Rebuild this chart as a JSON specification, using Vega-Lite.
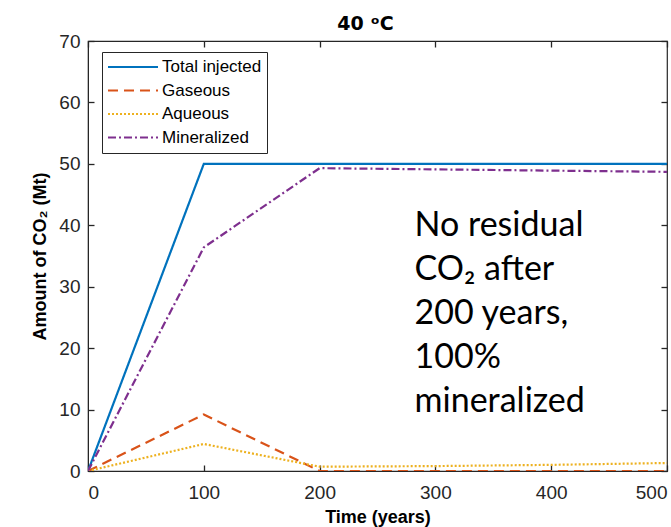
{
  "$schema": "https://vega.github.io/schema/vega-lite/v6.json",
  "width": 579,
  "height": 430,
  "autosize": "none",
  "padding": {"left": 88, "top": 41, "right": 4, "bottom": 56},
  "config": {
    "view": {"stroke": "#262626", "strokeWidth": 1.2},
    "font": "Liberation Sans",
    "axis": {"grid": false, "domainColor": "#262626", "tickColor": "#262626", "labelColor": "#262626", "titleColor": "#000", "labelFontSize": 19, "titleFontSize": 18, "titleFontWeight": "bold", "tickSize": 6, "tickWidth": 1.3}
  },
  "title": {"text": "40 ᵒC", "fontSize": 19, "fontWeight": "bold", "font": "DejaVu Sans", "offset": 1, "dx": -12, "dy": 3, "color": "#000"},
  "resolve": {"scale": {"x": "independent", "y": "independent"}, "axis": {"x": "independent", "y": "independent"}},
  "datasets": {
    "lines": [
      {"series": "Total injected", "time": 0, "value": 0},
      {"series": "Total injected", "time": 100, "value": 50},
      {"series": "Total injected", "time": 200, "value": 50},
      {"series": "Total injected", "time": 500, "value": 50},
      {"series": "Gaseous", "time": 0, "value": 0},
      {"series": "Gaseous", "time": 100, "value": 9.2},
      {"series": "Gaseous", "time": 200, "value": 0},
      {"series": "Gaseous", "time": 500, "value": 0},
      {"series": "Aqueous", "time": 0, "value": 0},
      {"series": "Aqueous", "time": 100, "value": 4.4},
      {"series": "Aqueous", "time": 200, "value": 0.7},
      {"series": "Aqueous", "time": 300, "value": 0.8},
      {"series": "Aqueous", "time": 400, "value": 1.0},
      {"series": "Aqueous", "time": 500, "value": 1.3},
      {"series": "Mineralized", "time": 0, "value": 0},
      {"series": "Mineralized", "time": 100, "value": 36.4},
      {"series": "Mineralized", "time": 200, "value": 49.3},
      {"series": "Mineralized", "time": 500, "value": 48.7}
    ],
    "note": [{"text": ["No residual", "CO₂ after", "200 years,", "100%", "mineralized"]}]
  },
  "layer": [
    {
      "layer": [
        {
          "data": {"name": "lines"},
          "mark": {"type": "line", "strokeWidth": 2.2, "clip": true},
          "encoding": {
            "x": {"field": "time", "type": "quantitative", "scale": {"domain": [0, 500], "nice": false}, "axis": {"title": "Time (years)", "values": [0, 100, 200, 300, 400, 500], "ticks": false, "labelPadding": 12, "titlePadding": 6}},
            "y": {"field": "value", "type": "quantitative", "scale": {"domain": [0, 70], "nice": false}, "axis": {"title": "Amount of CO₂ (Mt)", "values": [0, 10, 20, 30, 40, 50, 60, 70], "ticks": false, "labelPadding": 8, "titlePadding": 9}},
            "color": {"field": "series", "type": "nominal", "scale": {"domain": ["Total injected", "Gaseous", "Aqueous", "Mineralized"], "range": ["#0072BD", "#D95319", "#EDB120", "#7E2F8E"]},
              "legend": {"title": null, "orient": "none", "legendX": 14, "legendY": 11, "strokeColor": "#262626", "fillColor": "white", "padding": 5, "labelFontSize": 17, "labelColor": "#000", "symbolType": "stroke", "symbolSize": 2500, "symbolStrokeWidth": 2, "clipHeight": 20, "rowPadding": 3.5, "labelOffset": 3}},
            "strokeDash": {"field": "series", "type": "nominal", "scale": {"domain": ["Total injected", "Gaseous", "Aqueous", "Mineralized"], "range": [[1, 0], [10, 6], [2, 2], [8, 3, 2, 3]]}, "legend": null}
          }
        },
        {
          "data": {"name": "note"},
          "mark": {"type": "text", "font": "Lato", "fontSize": 34, "align": "left", "baseline": "alphabetic", "lineHeight": 44, "color": "#000"},
          "encoding": {
            "x": {"datum": 282, "type": "quantitative"},
            "y": {"datum": 38.3, "type": "quantitative"},
            "text": {"field": "text"}
          }
        }
      ]
    },
    {
      "data": {"name": "lines"},
      "mark": {"type": "point", "opacity": 0},
      "encoding": {
        "x": {"field": "time", "type": "quantitative", "scale": {"domain": [0, 500], "nice": false}, "axis": {"orient": "top", "offset": -430, "title": null, "labels": false, "domain": false, "values": [0, 100, 200, 300, 400, 500]}},
        "y": {"field": "value", "type": "quantitative", "scale": {"domain": [0, 70], "nice": false}, "axis": {"orient": "right", "offset": -579, "title": null, "labels": false, "domain": false, "values": [0, 10, 20, 30, 40, 50, 60, 70]}}
      }
    },
    {
      "data": {"name": "lines"},
      "mark": {"type": "point", "opacity": 0},
      "encoding": {
        "x": {"field": "time", "type": "quantitative", "scale": {"domain": [0, 500], "nice": false}, "axis": {"orient": "bottom", "offset": -430, "title": null, "labels": false, "domain": false, "values": [0, 100, 200, 300, 400, 500]}},
        "y": {"field": "value", "type": "quantitative", "scale": {"domain": [0, 70], "nice": false}, "axis": {"orient": "left", "offset": -579, "title": null, "labels": false, "domain": false, "values": [0, 10, 20, 30, 40, 50, 60, 70]}}
      }
    }
  ]
}
